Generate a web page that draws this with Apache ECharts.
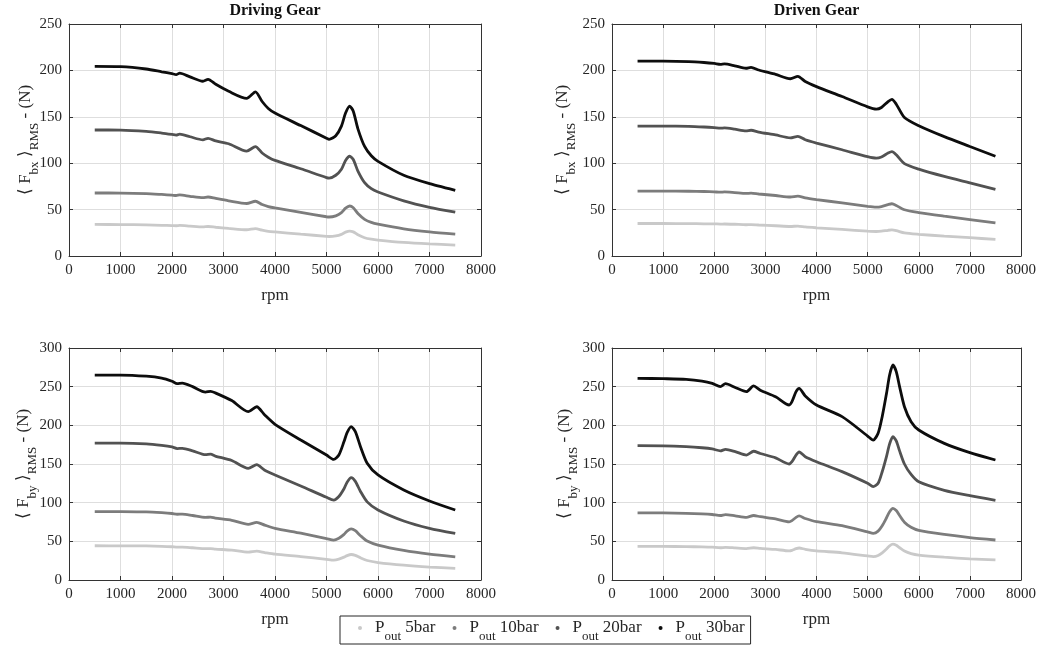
<!DOCTYPE html>
<html>
<head>
<meta charset="utf-8">
<script src="https://cdn.jsdelivr.net/npm/echarts@6/dist/echarts.min.js"></script>
<style>
  html, body { margin: 0; padding: 0; background: #fff; }
  #chart { width: 1045px; height: 647px; }
</style>
</head>
<body>
<div id="chart"></div>
<script>
// Outlet pressure cases shown in the legend
const pressures = ['5bar', '10bar', '20bar', '30bar'];

// ---- Driving gear, <F_bx>_RMS (N) ----
const rpmDrivingBx = [500, 1000, 1500, 1800, 2000, 2080, 2150, 2350, 2600, 2700, 2850, 3100, 3450, 3620, 3750, 3870, 4000, 4500, 5000, 5050, 5180, 5290, 5370, 5450, 5520, 5610, 5740, 5870, 6000, 6500, 7000, 7500];
const drivingBx5 = [34, 33.9, 33.6, 33.1, 32.8, 32.6, 32.9, 32.2, 31.4, 31.8, 31, 29.8, 28.3, 29.5, 27.8, 26.6, 25.9, 23.5, 21.2, 21, 21.6, 23.3, 25.7, 26.9, 26, 22.9, 19.7, 18.1, 17.1, 14.6, 13, 11.8];
const drivingBx10 = [67.9, 67.8, 67.2, 66.3, 65.6, 65.2, 65.8, 64.3, 62.8, 63.6, 62, 59.5, 56.6, 59, 55.5, 53.3, 51.8, 47, 42.3, 42, 43.3, 46.7, 51.5, 53.9, 52, 45.8, 39.5, 36.2, 34.3, 29.3, 26, 23.6];
const drivingBx20 = [135.8, 135.7, 134.3, 132.5, 131, 130.3, 131.3, 128.5, 125.2, 126.8, 124, 121, 113, 117.9, 111, 106.5, 103, 94, 84.5, 84, 87, 93.5, 103, 107.5, 104, 91.5, 79, 72.5, 69, 59.5, 52.5, 47.2];
const drivingBx30 = [204.3, 204, 201.5, 198.5, 196.5, 195.5, 197, 193, 188.3, 190.4, 185, 177.5, 169.8, 176.8, 166.5, 159, 154, 140.5, 127, 125.7, 129.6, 140, 154, 161.5, 156, 137, 118, 108, 102, 87, 78, 70.8];

// ---- Driven gear, <F_bx>_RMS (N) ----
const rpmDrivenBx = [500, 1000, 1500, 1800, 2000, 2120, 2200, 2400, 2620, 2720, 2870, 3200, 3490, 3635, 3780, 4000, 4500, 5000, 5170, 5270, 5400, 5475, 5560, 5720, 6000, 6500, 7000, 7500];
const drivenBx5 = [35, 35, 34.9, 34.7, 34.6, 34.4, 34.5, 34.2, 33.7, 33.9, 33.4, 32.6, 31.8, 32.3, 31.3, 30.4, 28.6, 26.8, 26.4, 26.7, 27.7, 28.1, 27.3, 24.9, 23.4, 21.4, 19.7, 17.9];
const drivenBx10 = [70, 70, 69.8, 69.5, 69.1, 68.8, 69, 68.3, 67.4, 67.7, 66.8, 65.2, 63.6, 64.5, 62.6, 60.8, 57.2, 53.5, 52.7, 53.3, 55.4, 56.3, 54.5, 49.8, 46.8, 42.9, 39.3, 35.8];
const drivenBx20 = [140, 140, 139.7, 139, 138.3, 137.7, 138, 136.7, 134.8, 135.5, 133.6, 130.4, 127.3, 129, 125.3, 121.7, 114.5, 107, 105.4, 106.7, 110.9, 112.5, 109, 99.5, 93.6, 85.7, 78.7, 71.7];
const drivenBx30 = [210, 210, 209.5, 208.5, 207.5, 206.6, 207, 205, 202.3, 203.3, 200.4, 195.7, 191, 193.6, 188, 182.5, 171.8, 160.7, 158.2, 160, 166.4, 168.8, 163.6, 149.3, 140.4, 128.6, 118, 107.5];

// ---- Driving gear, <F_by>_RMS (N) ----
const rpmDrivingBy = [500, 1000, 1500, 1800, 2000, 2100, 2200, 2400, 2650, 2750, 2840, 3160, 3480, 3645, 3800, 4000, 4500, 5000, 5140, 5240, 5340, 5400, 5480, 5560, 5660, 5790, 6000, 6500, 7000, 7500];
const drivingBy5 = [44.3, 44.2, 44, 43.5, 43, 42.5, 42.6, 41.7, 40.5, 40.7, 40, 38.6, 36, 37.3, 35.5, 33.4, 30.3, 26.8, 25.8, 27, 29.6, 31.6, 33, 31.9, 28.7, 25.2, 22.6, 19.1, 16.7, 15];
const drivingBy10 = [88.5, 88.4, 88, 87, 86, 85, 85.2, 83.4, 81, 81.3, 80, 77.2, 72, 74.6, 71, 66.8, 60.6, 53.6, 51.5, 54, 59, 63.3, 66, 63.7, 57.3, 50.4, 45.2, 38.2, 33.4, 30];
const drivingBy20 = [177, 177, 176, 174, 172, 170, 170.3, 167, 162, 162.7, 160.3, 154.5, 144.4, 149.1, 142, 135.8, 121.6, 106.9, 103.4, 108, 118, 126.5, 132.3, 127.5, 114.5, 101, 90.5, 76.3, 66.8, 60.3];
const drivingBy30 = [265, 265, 263.5, 261, 257, 254, 254.5, 250, 243, 244, 242, 232, 217.7, 224, 213.4, 201.3, 181, 161.6, 156, 161.6, 179, 190.5, 198.3, 191.8, 172.4, 151, 135.8, 116.4, 102.2, 90.5];

// ---- Driven gear, <F_by>_RMS (N) ----
const rpmDrivenBy = [500, 1000, 1450, 1760, 1960, 2120, 2220, 2410, 2630, 2770, 2900, 3200, 3465, 3520, 3600, 3660, 3780, 4000, 4500, 5000, 5110, 5205, 5285, 5370, 5430, 5495, 5560, 5625, 5720, 5850, 6000, 6500, 7000, 7500];
const drivenBy5 = [43.4, 43.4, 43.2, 42.8, 42.4, 41.7, 42.3, 41.5, 40.6, 41.7, 40.9, 39.5, 37.7, 38.4, 40.5, 41.4, 39.7, 37.7, 35.2, 31.1, 30.2, 31.6, 35.1, 40.2, 44.2, 46.3, 44.9, 41.7, 37.4, 34.1, 32.2, 29.5, 27.4, 25.9];
const drivenBy10 = [86.9, 86.8, 86.2, 85.5, 84.7, 83.4, 84.6, 83, 81, 83.4, 81.8, 79, 75.2, 76.8, 81, 82.8, 79.5, 75.4, 70.2, 62.2, 60.3, 63.2, 70.2, 80.5, 88.3, 92.5, 89.8, 83.4, 74.8, 68.2, 64.2, 58.9, 54.8, 51.7];
const drivenBy20 = [173.7, 173.5, 172.4, 171, 169.5, 167, 169, 166, 161.6, 166.5, 163.6, 158, 150, 153, 161.5, 165.5, 159.5, 153, 140.1, 125, 120.7, 125, 140, 160, 176, 185.3, 180, 167, 150, 136.5, 127, 116, 109, 103];
const drivenBy30 = [260.8, 260.3, 259.5, 257.3, 254.3, 250, 253.9, 249, 243.5, 250.9, 245.5, 237, 226.3, 230.6, 243.5, 247.8, 238, 226.3, 211.2, 186.2, 181, 189.7, 211.2, 241.4, 265.1, 278, 269.4, 250, 224.1, 204.7, 194, 176.7, 164.7, 155.2];

// Axis ticks
const xTicks = { min: 0, max: 8000, interval: 1000 };
const yTicksBx = { min: 0, max: 250, interval: 50 };
const yTicksBy = { min: 0, max: 300, interval: 50 };

// Panel titles
const panelTitles = ['Driving Gear', 'Driven Gear'];

const FONT = '"Liberation Serif", "Times New Roman", serif';
const TEXT = '#262626';
const lineColors = ['#c9c9c9', '#7c7c7c', '#525252', '#0d0d0d'];
const axisColor = '#333333';
const gridLineColor = '#dedede';

const panels = [
  { rpm: rpmDrivingBx, vals: [drivingBx5, drivingBx10, drivingBx20, drivingBx30], y: yTicksBx, comp: 'bx',
    grid: { left: 69, top: 24, width: 412, height: 232 }, nameGap: 34 },
  { rpm: rpmDrivenBx, vals: [drivenBx5, drivenBx10, drivenBx20, drivenBx30], y: yTicksBx, comp: 'bx',
    grid: { left: 612, top: 24, width: 409, height: 232 }, nameGap: 40 },
  { rpm: rpmDrivingBy, vals: [drivingBy5, drivingBy10, drivingBy20, drivingBy30], y: yTicksBy, comp: 'by',
    grid: { left: 69, top: 348, width: 412, height: 232 }, nameGap: 36 },
  { rpm: rpmDrivenBy, vals: [drivenBy5, drivenBy10, drivenBy20, drivenBy30], y: yTicksBy, comp: 'by',
    grid: { left: 612, top: 348, width: 409, height: 232 }, nameGap: 38 }
];

// Rich-text styles for subscripts: main text centred at 9px, subscript pushed down by padding
const mainTok = { fontFamily: FONT, fontSize: 17, lineHeight: 18, verticalAlign: 'top', color: TEXT };
const subTok = { fontFamily: FONT, fontSize: 13, lineHeight: 13, padding: [11, 0, 0, 0], verticalAlign: 'top', color: TEXT };

const grids = [], xAxes = [], yAxes = [], series = [];
const plainNumber = v => String(v);

panels.forEach((p, i) => {
  grids.push(Object.assign({ outerBoundsMode: 'none', containLabel: false }, p.grid));

  // bottom x axis with labels
  xAxes.push({
    type: 'value', gridIndex: i, position: 'bottom',
    min: xTicks.min, max: xTicks.max, interval: xTicks.interval,
    axisLine: { show: true, onZero: false, lineStyle: { color: axisColor, width: 1 } },
    axisTick: { show: true, inside: true, length: 4, lineStyle: { color: axisColor } },
    axisLabel: { margin: 7, fontFamily: FONT, fontSize: 15, color: TEXT, formatter: plainNumber },
    splitLine: { show: true, lineStyle: { color: gridLineColor, width: 1 } },
    name: 'rpm', nameLocation: 'middle', nameGap: 31, nameMoveOverlap: false,
    nameTextStyle: { fontFamily: FONT, fontSize: 17, color: TEXT }
  });
  // top x axis: box edge with inward ticks
  xAxes.push({
    type: 'value', gridIndex: i, position: 'top',
    min: xTicks.min, max: xTicks.max, interval: xTicks.interval,
    axisLine: { show: true, onZero: false, lineStyle: { color: axisColor, width: 1 } },
    axisTick: { show: true, inside: true, length: 4, lineStyle: { color: axisColor } },
    axisLabel: { show: false }, splitLine: { show: false }
  });

  // left y axis with labels and rich name
  yAxes.push({
    type: 'value', gridIndex: i, position: 'left',
    min: p.y.min, max: p.y.max, interval: p.y.interval,
    axisLine: { show: true, onZero: false, lineStyle: { color: axisColor, width: 1 } },
    axisTick: { show: true, inside: true, length: 4, lineStyle: { color: axisColor } },
    axisLabel: { margin: 7, fontFamily: FONT, fontSize: 15, color: TEXT, formatter: plainNumber },
    splitLine: { show: true, lineStyle: { color: gridLineColor, width: 1 } },
    name: '{m|\u27e8 F}{s|' + p.comp + '}{m| \u27e9}{s|RMS}{m| - (N)}',
    nameLocation: 'middle', nameGap: p.nameGap, nameMoveOverlap: false,
    nameTextStyle: { rich: { m: mainTok, s: subTok } }
  });
  // right y axis: box edge with inward ticks
  yAxes.push({
    type: 'value', gridIndex: i, position: 'right',
    min: p.y.min, max: p.y.max, interval: p.y.interval,
    axisLine: { show: true, onZero: false, lineStyle: { color: axisColor, width: 1 } },
    axisTick: { show: true, inside: true, length: 4, lineStyle: { color: axisColor } },
    axisLabel: { show: false }, splitLine: { show: false }
  });

  p.vals.forEach((vals, k) => {
    series.push({
      type: 'line',
      name: 'Pout ' + pressures[k],
      xAxisIndex: 2 * i, yAxisIndex: 2 * i,
      data: p.rpm.map((r, j) => [r, vals[j]]),
      showSymbol: false, symbol: 'circle', symbolSize: 4,
      smooth: 0.25,
      lineStyle: { color: lineColors[k], width: 2.8 },
      itemStyle: { color: lineColors[k] },
      emphasis: { disabled: true },
      animation: false, z: 2 + k
    });
  });
});

const option = {
  backgroundColor: '#ffffff',
  animation: false,
  grid: grids,
  xAxis: xAxes,
  yAxis: yAxes,
  series: series,
  legend: {
    data: pressures.map(p => 'Pout ' + p),
    left: 340, top: 616,
    orient: 'horizontal',
    icon: 'circle', itemWidth: 20, itemHeight: 4, itemGap: 17,
    padding: [3, 6, 1, 18],
    backgroundColor: '#ffffff',
    borderColor: '#262626', borderWidth: 1, borderRadius: 0,
    selectedMode: false,
    formatter: name => '{m|P}{s|out}{m| ' + name.split(' ')[1] + '}',
    textStyle: { rich: { m: Object.assign({}, mainTok, { fontSize: 17 }), s: Object.assign({}, subTok, { fontSize: 13 }) } }
  },
  graphic: panelTitles.map((t, i) => ({
    type: 'text',
    x: panels[i].grid.left + panels[i].grid.width / 2,
    y: 11,
    style: { text: t, align: 'center', verticalAlign: 'middle', font: 'bold 16px ' + FONT, fill: '#111' }
  }))
};

const chart = echarts.init(document.getElementById('chart'), null, { renderer: 'canvas' });
chart.setOption(option);
</script>
</body>
</html>
